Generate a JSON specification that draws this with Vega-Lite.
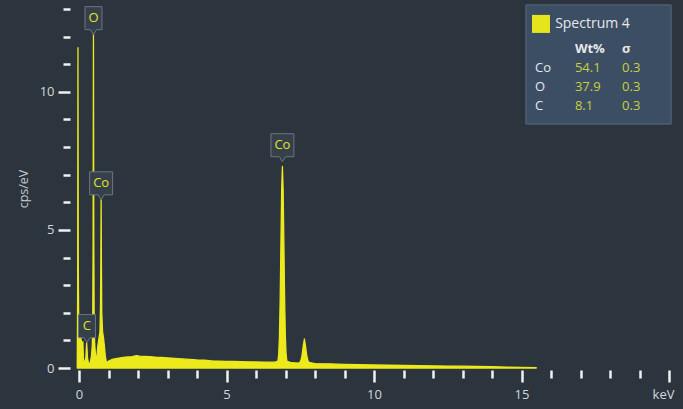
{
  "$schema": "https://vega.github.io/schema/vega-lite/v6.json",
  "width": 590,
  "height": 359,
  "autosize": {"type": "none"},
  "padding": {"left": 79, "top": 9, "right": 14, "bottom": 41},
  "background": "#2c343e",
  "config": {
    "view": {"stroke": null},
    "font": "Open Sans",
    "axis": {"domain": false, "grid": false}
  },
  "datasets": {
    "spectrum": [
      {"energy": -0.06, "cps": 0},
      {"energy": -0.045, "cps": 3.0},
      {"energy": -0.035, "cps": 11.6},
      {"energy": -0.025, "cps": 4.0},
      {"energy": -0.01, "cps": 1.6},
      {"energy": 0.02, "cps": 1.2},
      {"energy": 0.06, "cps": 1.1},
      {"energy": 0.09, "cps": 0.9},
      {"energy": 0.11, "cps": 0.35},
      {"energy": 0.13, "cps": 0.95},
      {"energy": 0.15, "cps": 0.35},
      {"energy": 0.19, "cps": 0.12},
      {"energy": 0.23, "cps": 0.35},
      {"energy": 0.26, "cps": 0.9},
      {"energy": 0.29, "cps": 0.35},
      {"energy": 0.33, "cps": 0.12},
      {"energy": 0.38, "cps": 0.2},
      {"energy": 0.42, "cps": 0.4},
      {"energy": 0.45, "cps": 0.8},
      {"energy": 0.465, "cps": 1.6},
      {"energy": 0.478, "cps": 4.5},
      {"energy": 0.49, "cps": 12.3},
      {"energy": 0.502, "cps": 4.5},
      {"energy": 0.515, "cps": 1.6},
      {"energy": 0.53, "cps": 0.9},
      {"energy": 0.56, "cps": 0.45},
      {"energy": 0.6, "cps": 0.35},
      {"energy": 0.64, "cps": 0.8},
      {"energy": 0.68, "cps": 1.1},
      {"energy": 0.71, "cps": 1.3},
      {"energy": 0.728, "cps": 2.2},
      {"energy": 0.74, "cps": 3.8},
      {"energy": 0.75, "cps": 6.1},
      {"energy": 0.76, "cps": 3.8},
      {"energy": 0.772, "cps": 2.0},
      {"energy": 0.8, "cps": 1.3},
      {"energy": 0.83, "cps": 1.1},
      {"energy": 0.86, "cps": 0.8},
      {"energy": 0.89, "cps": 0.45},
      {"energy": 0.92, "cps": 0.25},
      {"energy": 0.96, "cps": 0.2},
      {"energy": 1.0, "cps": 0.25},
      {"energy": 1.1, "cps": 0.3},
      {"energy": 1.2, "cps": 0.33},
      {"energy": 1.35, "cps": 0.36},
      {"energy": 1.5, "cps": 0.38},
      {"energy": 1.65, "cps": 0.4},
      {"energy": 1.8, "cps": 0.41},
      {"energy": 1.95, "cps": 0.45},
      {"energy": 2.05, "cps": 0.43},
      {"energy": 2.2, "cps": 0.42},
      {"energy": 2.4, "cps": 0.41},
      {"energy": 2.6, "cps": 0.39},
      {"energy": 2.8, "cps": 0.38},
      {"energy": 3.0, "cps": 0.37},
      {"energy": 3.25, "cps": 0.35},
      {"energy": 3.5, "cps": 0.33},
      {"energy": 3.75, "cps": 0.31},
      {"energy": 4.0, "cps": 0.29},
      {"energy": 4.25, "cps": 0.28},
      {"energy": 4.5, "cps": 0.26},
      {"energy": 4.75, "cps": 0.25},
      {"energy": 5.0, "cps": 0.24},
      {"energy": 5.25, "cps": 0.235},
      {"energy": 5.5, "cps": 0.23},
      {"energy": 5.75, "cps": 0.225},
      {"energy": 6.0, "cps": 0.22},
      {"energy": 6.25, "cps": 0.215},
      {"energy": 6.5, "cps": 0.21},
      {"energy": 6.65, "cps": 0.21},
      {"energy": 6.745, "cps": 0.25},
      {"energy": 6.77, "cps": 0.5},
      {"energy": 6.795, "cps": 1.15},
      {"energy": 6.82, "cps": 2.5},
      {"energy": 6.845, "cps": 4.5},
      {"energy": 6.87, "cps": 6.45},
      {"energy": 6.895, "cps": 7.3},
      {"energy": 6.92, "cps": 6.45},
      {"energy": 6.945, "cps": 4.5},
      {"energy": 6.97, "cps": 2.5},
      {"energy": 6.995, "cps": 1.15},
      {"energy": 7.02, "cps": 0.5},
      {"energy": 7.045, "cps": 0.25},
      {"energy": 7.2, "cps": 0.19},
      {"energy": 7.45, "cps": 0.18},
      {"energy": 7.48, "cps": 0.2},
      {"energy": 7.52, "cps": 0.27},
      {"energy": 7.56, "cps": 0.45},
      {"energy": 7.6, "cps": 0.78},
      {"energy": 7.64, "cps": 1.05},
      {"energy": 7.68, "cps": 0.78},
      {"energy": 7.72, "cps": 0.45},
      {"energy": 7.76, "cps": 0.27},
      {"energy": 7.8, "cps": 0.2},
      {"energy": 8.0, "cps": 0.16},
      {"energy": 8.5, "cps": 0.15},
      {"energy": 9.0, "cps": 0.13},
      {"energy": 9.5, "cps": 0.12},
      {"energy": 10.0, "cps": 0.11},
      {"energy": 10.5, "cps": 0.1},
      {"energy": 11.0, "cps": 0.09},
      {"energy": 11.5, "cps": 0.085},
      {"energy": 12.0, "cps": 0.08},
      {"energy": 12.5, "cps": 0.07},
      {"energy": 13.0, "cps": 0.065},
      {"energy": 13.5, "cps": 0.055},
      {"energy": 14.0, "cps": 0.045},
      {"energy": 14.5, "cps": 0.035},
      {"energy": 15.0, "cps": 0.025},
      {"energy": 15.5, "cps": 0.01}
    ],
    "peaks": [
      {"label": "C", "energy": 0.27, "top": 0.92},
      {"label": "O", "energy": 0.49, "top": 12.07},
      {"label": "Co", "energy": 0.75, "top": 6.09},
      {"label": "Co", "energy": 6.895, "top": 7.47}
    ],
    "composition": [
      {"element": "Co", "wt": 54.1, "sigma": 0.3},
      {"element": "O", "wt": 37.9, "sigma": 0.3},
      {"element": "C", "wt": 8.1, "sigma": 0.3}
    ]
  },
  "layer": [
    {
      "layer": [
        {
          "data": {"name": "spectrum"},
          "mark": {"type": "area", "fill": "#ecea1c", "stroke": "#ecea1c", "strokeWidth": 1.3, "strokeJoin": "round"},
          "encoding": {
            "x": {
              "field": "energy", "type": "quantitative",
              "scale": {"domain": [0, 20], "nice": false, "zero": false},
              "axis": {
                "title": null,
                "values": [0,0.5,1,1.5,2,2.5,3,3.5,4,4.5,5,5.5,6,6.5,7,7.5,8,8.5,9,9.5,10,10.5,11,11.5,12,12.5,13,13.5,14,14.5,15,15.5,16,16.5,17,17.5,18,18.5,19,19.5,20],
                "tickCount": 41,
                "format": "d",
                "offset": 2,
                "tickSize": {"condition": [{"test": "datum.value % 5 === 0", "value": 12}, {"test": "datum.value % 1 === 0", "value": 8}], "value": 5},
                "tickWidth": 2.5,
                "tickColor": "#eef0f2",
                "labelExpr": "datum.value === 20 ? 'keV' : (datum.value % 5 === 0 ? datum.label : '')",
                "labelOffset": {"condition": {"test": "datum.value === 20", "value": -6}, "value": 0},
                "labelPadding": 6,
                "labelFontSize": 13,
                "labelColor": "#d4d8dc",
                "labelFlush": false,
                "labelOverlap": false
              }
            },
            "y": {
              "field": "cps", "type": "quantitative",
              "scale": {"domain": [0, 13], "nice": false, "zero": false},
              "axis": {
                "title": "cps/eV",
                "values": [0,0.5,1,1.5,2,2.5,3,3.5,4,4.5,5,5.5,6,6.5,7,7.5,8,8.5,9,9.5,10,10.5,11,11.5,12,12.5,13],
                "tickCount": 27,
                "format": "d",
                "offset": 9,
                "tickSize": {"condition": [{"test": "datum.value % 5 === 0", "value": 12}, {"test": "datum.value % 1 === 0", "value": 7}], "value": 4.5},
                "tickWidth": 2.5,
                "tickColor": "#eef0f2",
                "labelExpr": "datum.value % 5 === 0 ? datum.label : ''",
                "labelPadding": 4,
                "labelFontSize": 13,
                "labelColor": "#d4d8dc",
                "labelFlush": false,
                "labelOverlap": false,
                "titleColor": "#c8ccd0",
                "titleFontSize": 12.5,
                "titleFontWeight": "normal",
                "titlePadding": 9
              }
            }
          }
        },
        {
          "data": {"name": "peaks"},
          "mark": {"type": "point", "filled": true, "opacity": 1, "size": 400, "fill": "#36404b", "stroke": "#6c7682", "strokeWidth": 1},
          "encoding": {
            "x": {"field": "energy", "type": "quantitative", "scale": {"domain": [0, 20], "nice": false, "zero": false}},
            "y": {"field": "top", "type": "quantitative", "scale": {"domain": [0, 13], "nice": false, "zero": false}},
            "shape": {
              "condition": {"test": "length(datum.label) > 1", "value": "M-1.15,-2.8L1.15,-2.8L1.15,-0.5L0.3,-0.5L0,0L-0.3,-0.5L-1.15,-0.5Z"},
              "value": "M-0.85,-2.8L0.85,-2.8L0.85,-0.5L0.3,-0.5L0,0L-0.3,-0.5L-0.85,-0.5Z"
            }
          }
        },
        {
          "data": {"name": "peaks"},
          "mark": {"type": "text", "dy": -16.5, "fontSize": 13, "color": "#e4e22a", "baseline": "middle", "align": "center"},
          "encoding": {
            "x": {"field": "energy", "type": "quantitative", "scale": {"domain": [0, 20], "nice": false, "zero": false}},
            "y": {"field": "top", "type": "quantitative", "scale": {"domain": [0, 13], "nice": false, "zero": false}},
            "text": {"field": "label"}
          }
        }
      ]
    },
    {
      "layer": [
        {
          "data": {"values": [{}]},
          "mark": {"type": "rect", "fill": "#3c4e64", "stroke": "#5a6b80", "strokeWidth": 1},
          "encoding": {
            "x": {"datum": 15.15, "scale": {"domain": [0, 20], "nice": false, "zero": false}},
            "x2": {"datum": 20.07},
            "y": {"datum": -2.32, "scale": {"domain": [-2.105, 16.79], "reverse": true, "nice": false, "zero": false}, "axis": null},
            "y2": {"datum": 3.95}
          }
        },
        {
          "data": {"values": [{}]},
          "mark": {"type": "square", "size": 324, "opacity": 1, "color": "#e6e41c"},
          "encoding": {
            "x": {"datum": 15.66},
            "y": {"datum": -1.32, "axis": null}
          }
        },
        {
          "data": {"values": [{}]},
          "mark": {"type": "text", "text": "Spectrum 4", "align": "left", "baseline": "middle", "fontSize": 14, "color": "#e6e8ea"},
          "encoding": {
            "x": {"datum": 16.14},
            "y": {"datum": -1.32, "axis": null}
          }
        },
        {
          "data": {"values": [{}]},
          "mark": {"type": "text", "text": "Wt%", "align": "left", "baseline": "middle", "fontSize": 13, "fontWeight": "bold", "color": "#e6e8ea"},
          "encoding": {
            "x": {"datum": 16.81},
            "y": {"datum": 0, "axis": null}
          }
        },
        {
          "data": {"values": [{}]},
          "mark": {"type": "text", "text": "σ", "align": "left", "baseline": "middle", "fontSize": 13, "fontWeight": "bold", "color": "#e6e8ea"},
          "encoding": {
            "x": {"datum": 18.41},
            "y": {"datum": 0, "axis": null}
          }
        },
        {
          "data": {"name": "composition"},
          "transform": [{"window": [{"op": "row_number", "as": "row"}]}],
          "layer": [
            {
              "mark": {"type": "text", "align": "left", "baseline": "middle", "fontSize": 13, "color": "#e6e8ea"},
              "encoding": {
                "x": {"datum": 15.46},
                "y": {"field": "row", "type": "quantitative", "axis": null},
                "text": {"field": "element"}
              }
            },
            {
              "mark": {"type": "text", "align": "left", "baseline": "middle", "fontSize": 13, "color": "#c8d03c"},
              "encoding": {
                "x": {"datum": 16.81},
                "y": {"field": "row", "type": "quantitative", "axis": null},
                "text": {"field": "wt", "format": ".1f"}
              }
            },
            {
              "mark": {"type": "text", "align": "left", "baseline": "middle", "fontSize": 13, "color": "#c8d03c"},
              "encoding": {
                "x": {"datum": 18.41},
                "y": {"field": "row", "type": "quantitative", "axis": null},
                "text": {"field": "sigma", "format": ".1f"}
              }
            }
          ]
        }
      ]
    }
  ],
  "resolve": {"scale": {"y": "independent"}}
}
